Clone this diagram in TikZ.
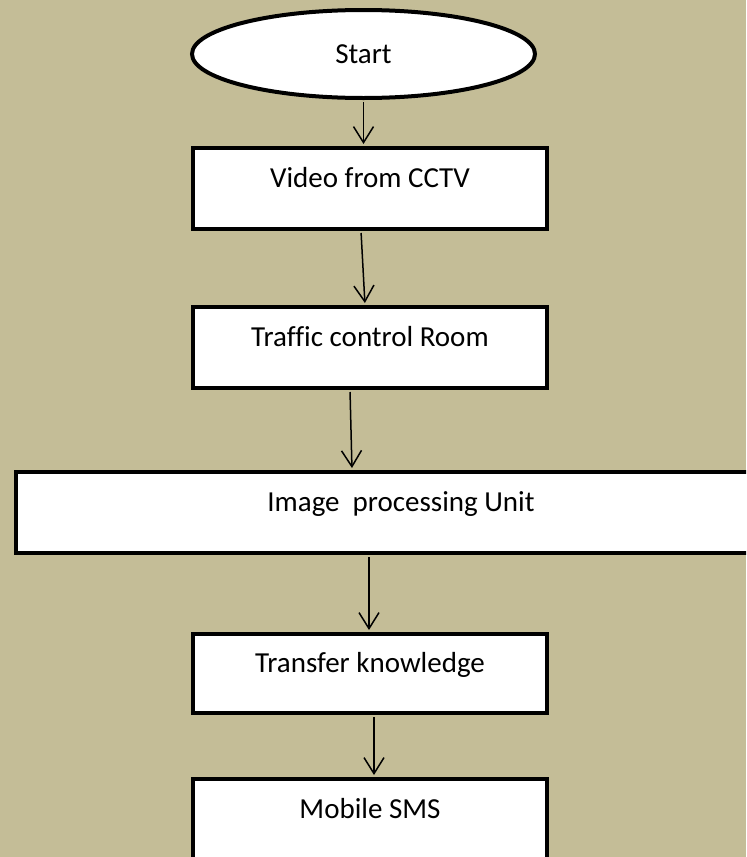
\documentclass[tikz,border=0pt]{standalone}
\usepackage{fontspec}
\setmainfont{Carlito}[Ligatures=CommonOff]
\usepackage{tikz}
\usetikzlibrary{arrows.meta,shapes.geometric}
\usepackage{xcolor}
\definecolor{flowtan}{RGB}{196,189,151}

\tikzset{
  flowbox/.style={draw=black,line width=2pt,fill=white,rectangle,inner sep=0pt,
    minimum width=177pt,minimum height=40.5pt,text height=0.7em,text depth=0.82em},
  startoval/.style={draw=black,line width=2pt,fill=white,ellipse,inner sep=0pt,
    minimum width=171.5pt,minimum height=44pt},
  flowarrow/.style={-{Straight Barb[length=8pt,width=10pt]},line width=0.75pt,
    shorten <=1pt,shorten >=1pt}
}

\begin{document}
\begin{tikzpicture}[x=0.5pt,y=-0.5pt,font=\fontsize{14.5}{17}\selectfont]
  \useasboundingbox (0,0) rectangle (746,857);
  \fill[flowtan] (0,0) rectangle (746,857);
  \clip (0,0) rectangle (746,857);
  % flow chart nodes
  \node[startoval] (start) at (363.5,54) {Start};
  \node[flowbox] (video) at (370,188.5) {Video from CCTV};
  \node[flowbox] (traffic) at (370,347.5) {Traffic control Room};
  \node[flowbox,minimum width=385pt] (imgunit) at (401,512.5) {Image\ \ processing Unit};
  \node[flowbox,minimum height=39.5pt] (transfer) at (370,673.5) {Transfer knowledge};
  \node[flowbox] (sms) at (370,819.5) {Mobile SMS};
  % connectors
  \draw[flowarrow] (start.south) -- (start.south |- video.north);
  \draw[flowarrow] ([xshift=-4.5pt]video.south) -- ([xshift=-2.5pt]traffic.north);
  \draw[flowarrow] ([xshift=-10pt]traffic.south) -- ([xshift=-24.5pt]imgunit.north);
  \draw[flowarrow] ([xshift=-16pt]imgunit.south) -- ([xshift=-0.5pt]transfer.north);
  \draw[flowarrow] ([xshift=2pt]transfer.south) -- ([xshift=2pt]sms.north);
\end{tikzpicture}
\end{document}
